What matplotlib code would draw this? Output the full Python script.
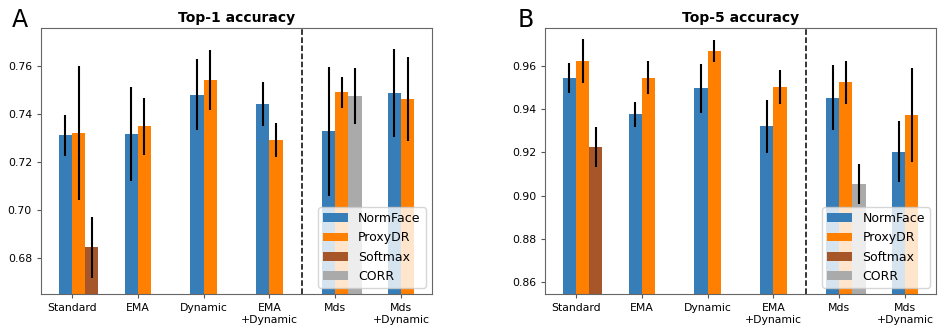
import numpy as np
import matplotlib
matplotlib.use("Agg")
import matplotlib.pyplot as plt

groups = ["Standard", "EMA", "Dynamic", "EMA\n+Dynamic", "Mds", "Mds\n+Dynamic"]
methods = ["NormFace", "ProxyDR", "Softmax", "CORR"]
colors = ["#377eb8", "#ff7f00", "#a65628", "#aaaaaa"]
slots = [0, 1, 2, 2]  # Softmax and CORR share the third slot

# Top-1 accuracy (mean, std); None = not run
top1_mean = {
    "NormFace": [0.731, 0.7315, 0.7478, 0.744, 0.7326, 0.7485],
    "ProxyDR": [0.7319, 0.7347, 0.7541, 0.729, 0.7488, 0.7461],
    "Softmax": [0.6844, None, None, None, None, None],
    "CORR": [None, None, None, None, 0.7473, None],
}
top1_err = {
    "NormFace": [0.0085, 0.0197, 0.0148, 0.009, 0.027, 0.0182],
    "ProxyDR": [0.028, 0.0117, 0.0125, 0.007, 0.0063, 0.0175],
    "Softmax": [0.0127, None, None, None, None, None],
    "CORR": [None, None, None, None, 0.0117, None],
}

# Top-5 accuracy
top5_mean = {
    "NormFace": [0.9542, 0.9375, 0.9496, 0.932, 0.9452, 0.9203],
    "ProxyDR": [0.9623, 0.9545, 0.9667, 0.9502, 0.9523, 0.9371],
    "Softmax": [0.9224, None, None, None, None, None],
    "CORR": [None, None, None, None, 0.9053, None],
}
top5_err = {
    "NormFace": [0.007, 0.0059, 0.0113, 0.0122, 0.0149, 0.0142],
    "ProxyDR": [0.0102, 0.0077, 0.005, 0.0077, 0.01, 0.0217],
    "Softmax": [0.0092, None, None, None, None, None],
    "CORR": [None, None, None, None, 0.0091, None],
}


def draw(ax, means, errs, title, ylim, yticks):
    width = 0.2
    x = np.arange(len(groups))
    for m, c, k in zip(methods, colors, slots):
        idx = [i for i, v in enumerate(means[m]) if v is not None]
        xs = x[idx] - width + k * width
        vals = [means[m][i] for i in idx]
        ers = [errs[m][i] for i in idx]
        ax.bar(xs, vals, width, align="edge", color=c, label=m, zorder=2)
        ax.errorbar(xs + width / 2, vals, yerr=ers, fmt="none", ecolor="black",
                    elinewidth=1.5, capsize=0, zorder=3)
    ax.axvline(3.5, color="black", linestyle="--", linewidth=1.1, zorder=1)
    ax.set_xlim(-0.47, 5.47)
    ax.set_ylim(*ylim)
    ax.set_yticks(yticks)
    ax.set_yticklabels(["%.2f" % t for t in yticks])
    ax.set_xticks(x)
    ax.set_xticklabels(groups)
    ax.tick_params(labelsize=7.8, length=3, color="#555555")
    for s in ax.spines.values():
        s.set_color("#666666")
    ax.set_title(title, fontsize=10, fontweight="bold", pad=4)
    leg = ax.legend(loc="lower right", fontsize=9, framealpha=0.8)
    leg.set_zorder(5)


fig = plt.figure(figsize=(9.43, 3.26), dpi=100)
ax1 = fig.add_axes([0.0435, 0.098, 0.4146, 0.816])
ax2 = fig.add_axes([0.578, 0.098, 0.4146, 0.816])

draw(ax1, top1_mean, top1_err, "Top-1 accuracy", (0.665, 0.7756),
     [0.68, 0.70, 0.72, 0.74, 0.76])
draw(ax2, top5_mean, top5_err, "Top-5 accuracy", (0.8545, 0.9774),
     [0.86, 0.88, 0.90, 0.92, 0.94, 0.96])

fig.text(0.013, 0.975, "A", fontsize=17, va="top", ha="left")
fig.text(0.549, 0.975, "B", fontsize=17, va="top", ha="left")

fig.savefig("out.png", dpi=100)
